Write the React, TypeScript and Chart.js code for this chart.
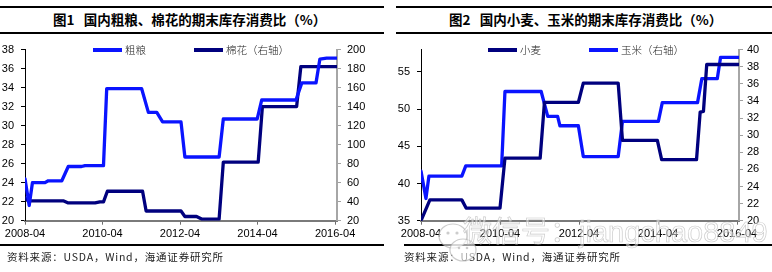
import { useEffect, useRef } from "react";
import { Chart, registerables } from "chart.js";

Chart.register(...registerables);

// Horizontal axis: months counted from 2008-04, labelled every two years
const xTickLabels = ["2008-04", "2010-04", "2012-04", "2014-04", "2016-04"];
const xTickStep = 24;
const xMax = 96.6;

// 图1 — 粗粮 (left axis, %) and 棉花 (right axis, %)
const grainMonths = [0, 1.3, 2.3, 6.2, 7.2, 11.4, 13.4, 17.5, 18.6, 24.3, 25.3, 36.1, 38.2, 40.8, 42.6, 48.3, 49.5, 60.1, 61.4, 71.9, 73.3, 83.9, 85.7, 90.1, 91.3, 93.4, 96.5];
const grainRatio = [24.4, 21.6, 24.0, 24.0, 24.2, 24.2, 25.7, 25.7, 25.8, 25.8, 33.9, 33.9, 31.4, 31.4, 30.4, 30.4, 26.7, 26.7, 30.7, 30.7, 32.7, 32.7, 34.5, 34.5, 37.0, 37.1, 37.1];
const cottonMonths = [0, 1, 12, 13.4, 21.7, 23.2, 24.3, 25.5, 36.4, 37.5, 48.3, 49.5, 53.1, 54.7, 60.1, 61.4, 72.2, 73.5, 84.1, 85.4, 96.5];
const cottonRatio = [44, 40.8, 40.8, 38.7, 38.7, 39.8, 39.8, 51.0, 51.0, 30.2, 30.2, 24.4, 24.4, 21.7, 21.7, 81.7, 81.7, 140, 140, 182, 182];

// 图2 — 小麦 (left axis, %) and 玉米 (right axis, %)
const wheatMonths = [0, 2.7, 12.4, 13.7, 24, 25.5, 36.2, 37.5, 47.8, 49.3, 59.9, 61.2, 71.8, 73.1, 83.7, 84.8, 85.8, 86.8, 96.5];
const wheatRatio = [35.0, 37.8, 37.8, 36.7, 36.7, 43.4, 43.4, 50.9, 50.9, 53.5, 53.5, 45.8, 45.8, 43.2, 43.2, 49.6, 49.7, 56.0, 56.0];
const cornMonths = [0, 1.5, 2.4, 12.4, 13.6, 24.5, 25.5, 36.5, 38.5, 41.5, 42.2, 47.8, 49.3, 59.9, 61.2, 72.1, 73.3, 84, 85.3, 90, 91, 96.5];
const cornRatio = [25.8, 22.6, 25.2, 25.2, 26.4, 26.4, 35.1, 35.1, 32.2, 32.2, 31.1, 31.1, 27.5, 27.5, 31.6, 31.6, 33.8, 33.8, 36.6, 36.6, 39.1, 39.1];

const BLUE = "#0a14ff";
const NAVY = "#00007e";
const SOURCE = "资料来源：USDA，Wind，海通证券研究所";

type Series = {
  label: string;
  months: number[];
  values: number[];
  color: string;
  axis: "y" | "y1";
  order: number;
};

type Range = { min: number; max: number; step: number };

type ChartProps = {
  series: Series[];
  left: Range;
  right: Range;
  leftWidth: number;
  rightWidth: number;
  leftPad: number;
  rightPad: number;
};

const tickFont = { family: "'Liberation Sans', Arial, sans-serif", size: 11 };

function DualAxisChart({ series, left, right, leftWidth, rightWidth, leftPad, rightPad }: ChartProps) {
  const ref = useRef<HTMLCanvasElement>(null);
  useEffect(() => {
    const chart = new Chart(ref.current!, {
      type: "line",
      data: {
        datasets: series.map((s) => ({
          label: s.label,
          data: s.months.map((m, i) => ({ x: m, y: s.values[i] })),
          borderColor: s.color,
          backgroundColor: s.color,
          borderWidth: 3.3,
          pointRadius: 0,
          tension: 0,
          yAxisID: s.axis,
          order: s.order,
          borderJoinStyle: "round",
          borderCapStyle: "round",
        })),
      },
      options: {
        responsive: false,
        animation: false,
        events: [],
        layout: { padding: { top: 7.5, left: 0, right: 0, bottom: 0 } },
        plugins: { legend: { display: false }, tooltip: { enabled: false } },
        scales: {
          x: {
            type: "linear",
            min: 0,
            max: xMax,
            ticks: {
              stepSize: xTickStep,
              includeBounds: false,
              autoSkip: false,
              maxRotation: 0,
              padding: 3,
              color: "#000",
              font: tickFont,
              callback: (v: any) => xTickLabels[Math.round(Number(v) / xTickStep)] ?? "",
            },
            grid: { drawOnChartArea: false, tickLength: 4, color: "#6e6e6e", tickWidth: 1 },
            border: { color: "#7a7a7a", width: 2 },
            afterFit: (s: any) => {
              s.height = 29.3;
            },
          },
          y: {
            type: "linear",
            position: "left",
            min: left.min,
            max: left.max,
            ticks: {
              stepSize: left.step,
              includeBounds: false,
              padding: leftPad,
              color: "#000",
              font: tickFont,
            },
            grid: { drawOnChartArea: false, tickLength: 4, color: "#000", tickWidth: 1 },
            border: { color: "#000", width: 1 },
            afterFit: (s: any) => {
              s.width = leftWidth;
            },
          },
          y1: {
            type: "linear",
            position: "right",
            min: right.min,
            max: right.max,
            ticks: {
              stepSize: right.step,
              includeBounds: false,
              padding: rightPad,
              color: "#000",
              font: tickFont,
            },
            grid: { drawOnChartArea: false, tickLength: 4, color: "#a0a0a0", tickWidth: 1 },
            border: { color: "#a6a6a6", width: 2 },
            afterFit: (s: any) => {
              s.width = rightWidth;
            },
          },
        },
      },
    } as any);
    return () => chart.destroy();
  }, []);
  return (
    <canvas
      ref={ref}
      width={386}
      height={214}
      style={{ position: "absolute", left: 0, top: 36, width: 386, height: 214 }}
    />
  );
}

type LegendItem = { label: string; color: string; x: number };

function Legend({ items }: { items: LegendItem[] }) {
  return (
    <>
      {items.map((it) => (
        <div
          key={it.label}
          style={{
            position: "absolute",
            left: it.x,
            top: 44,
            height: 12,
            display: "flex",
            alignItems: "center",
            whiteSpace: "nowrap",
          }}
        >
          <span style={{ display: "inline-block", width: 29, height: 3.5, background: it.color }} />
          <span
            style={{
              marginLeft: 3,
              fontSize: 10.5,
              lineHeight: "12px",
              color: "#222",
              fontWeight: 300,
              fontFamily: "'Noto Sans CJK SC', sans-serif",
            }}
          >
            {it.label}
          </span>
        </div>
      ))}
    </>
  );
}

type PanelProps = {
  x: number;
  title: string;
  titleX: number;
  ruleTop: [number, number];
  ruleBottom: [number, number];
  sourceX: number;
  legend: LegendItem[];
  chart: ChartProps;
  children?: any;
};

function Panel({ x, title, titleX, ruleTop, ruleBottom, sourceX, legend, chart, children }: PanelProps) {
  const rule = (top: number, from: number, to: number) => (
    <div style={{ position: "absolute", left: from, top, width: to - from, height: 1.6, background: "#000" }} />
  );
  return (
    <div style={{ position: "absolute", left: x, top: 0, width: 386, height: 272 }}>
      {rule(6.2, ruleTop[0], ruleTop[1])}
      {rule(32.2, ruleTop[0], ruleTop[1])}
      <div
        style={{
          position: "absolute",
          left: titleX,
          top: 11,
          fontSize: 13.5,
          lineHeight: "16px",
          fontWeight: 700,
          whiteSpace: "pre",
          color: "#000",
          fontFamily: "'Noto Sans CJK SC', sans-serif",
        }}
      >
        {title}
      </div>
      <DualAxisChart {...chart} />
      <Legend items={legend} />
      {rule(244.4, ruleBottom[0], ruleBottom[1])}
      <div
        style={{
          position: "absolute",
          left: sourceX,
          top: 250,
          fontSize: 10.5,
          lineHeight: "14px",
          letterSpacing: 0.8,
          whiteSpace: "nowrap",
          color: "#222",
          fontFamily: "'Noto Sans CJK SC', sans-serif",
        }}
      >
        {SOURCE}
      </div>
      {children}
    </div>
  );
}

function Watermark() {
  const stroke = "rgba(170,170,170,0.6)";
  return (
    <div style={{ position: "absolute", left: 50, top: 214, width: 336, height: 58, pointerEvents: "none" }}>
      <svg width={44} height={58} style={{ position: "absolute", left: 0, top: 0 }}>
        <ellipse cx={17} cy={22} rx={14} ry={12} fill="rgba(255,255,255,0.6)" stroke={stroke} strokeWidth={1.2} />
        <ellipse cx={27} cy={36} rx={13} ry={11} fill="rgba(255,255,255,0.6)" stroke={stroke} strokeWidth={1.2} />
        <circle cx={12} cy={19} r={1.6} fill={stroke} />
        <circle cx={21} cy={19} r={1.6} fill={stroke} />
        <circle cx={23} cy={34} r={1.3} fill={stroke} />
        <circle cx={31} cy={34} r={1.3} fill={stroke} />
      </svg>
      <div
        style={{
          position: "absolute",
          left: 27,
          top: 2,
          fontSize: 29,
          lineHeight: "32px",
          whiteSpace: "nowrap",
          color: "rgba(255,255,255,0.5)",
          WebkitTextStroke: `0.7px ${stroke}`,
          fontFamily: "'Liberation Sans', 'Noto Sans CJK SC', sans-serif",
        }}
      >
        微信号：jiangchao8849
      </div>
    </div>
  );
}

export default function App() {
  return (
    <div
      style={{
        position: "fixed",
        left: 0,
        top: 0,
        width: 772,
        height: 272,
        background: "#fff",
        overflow: "hidden",
      }}
    >
      <Panel
        x={0}
        title={"图1   国内粗粮、棉花的期末库存消费比（%）"}
        titleX={53}
        ruleTop={[0, 384]}
        ruleBottom={[0, 384]}
        sourceX={7}
        legend={[
          { label: "粗粮", color: BLUE, x: 93 },
          { label: "棉花（右轴）", color: NAVY, x: 194 },
        ]}
        chart={{
          series: [
            { label: "粗粮", months: grainMonths, values: grainRatio, color: BLUE, axis: "y", order: 0 },
            { label: "棉花（右轴）", months: cottonMonths, values: cottonRatio, color: NAVY, axis: "y1", order: 1 },
          ],
          left: { min: 20, max: 38, step: 2 },
          right: { min: 20, max: 200, step: 20 },
          leftWidth: 25,
          rightWidth: 49,
          leftPad: 7,
          rightPad: 6,
        }}
      />
      <Panel
        x={386}
        title={"图2   国内小麦、玉米的期末库存消费比（%）"}
        titleX={63}
        ruleTop={[10, 386]}
        ruleBottom={[18, 386]}
        sourceX={18}
        legend={[
          { label: "小麦", color: NAVY, x: 102 },
          { label: "玉米（右轴）", color: BLUE, x: 203 },
        ]}
        chart={{
          series: [
            { label: "小麦", months: wheatMonths, values: wheatRatio, color: NAVY, axis: "y", order: 0 },
            { label: "玉米（右轴）", months: cornMonths, values: cornRatio, color: BLUE, axis: "y1", order: 1 },
          ],
          left: { min: 35, max: 58, step: 5 },
          right: { min: 20, max: 40, step: 2 },
          leftWidth: 35,
          rightWidth: 33,
          leftPad: 7,
          rightPad: 4,
        }}
      >
        <Watermark />
      </Panel>
    </div>
  );
}
